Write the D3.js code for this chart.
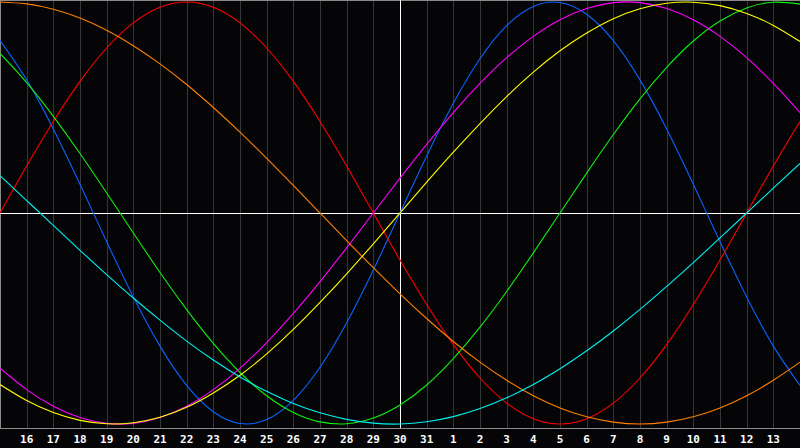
<!DOCTYPE html>
<html>
<head>
<meta charset="utf-8">
<script src="https://cdn.jsdelivr.net/npm/d3@7"></script>
<style>
  html, body { margin: 0; padding: 0; background: #050508; }
  svg { display: block; }
</style>
</head>
<body>
<svg id="chart"></svg>
<script>
// day numbers along the bottom (index 0 and 30 fall on the edges, unlabeled)
const days = [15, 16, 17, 18, 19, 20, 21, 22, 23, 24, 25, 26, 27, 28, 29, 30, 31,
              1, 2, 3, 4, 5, 6, 7, 8, 9, 10, 11, 12, 13, 14];
const tickLabels = ["16","17","18","19","20","21","22","23","24","25","26","27","28","29","30","31",
                    "1","2","3","4","5","6","7","8","9","10","11","12","13"];
const todayIndex = 15;

// cycle values per day (-1 .. 1)
const physical = [0.817, 0.631, 0.398, 0.136, -0.136, -0.398, -0.631, -0.817, -0.942, -0.998, -0.979,
  -0.888, -0.731, -0.520, -0.270, 0, 0.270, 0.520, 0.731, 0.888, 0.979, 0.998, 0.942, 0.817, 0.631,
  0.398, 0.136, -0.136, -0.398, -0.631, -0.817];
const emotional = [0, 0.223, 0.434, 0.624, 0.782, 0.901, 0.975, 1, 0.975, 0.901, 0.782, 0.624, 0.434,
  0.223, 0, -0.223, -0.434, -0.624, -0.782, -0.901, -0.975, -1, -0.975, -0.901, -0.782, -0.624,
  -0.434, -0.223, 0, 0.223, 0.434];
const intellectual = [0.756, 0.618, 0.458, 0.282, 0.095, -0.095, -0.282, -0.458, -0.618, -0.756,
  -0.866, -0.945, -0.990, -0.999, -0.972, -0.910, -0.815, -0.690, -0.541, -0.372, -0.189, 0, 0.189,
  0.372, 0.541, 0.690, 0.815, 0.910, 0.972, 0.999, 0.990];
const intuitive = [-0.736, -0.837, -0.916, -0.969, -0.997, -0.997, -0.969, -0.916, -0.837, -0.736,
  -0.614, -0.476, -0.325, -0.165, 0, 0.165, 0.325, 0.476, 0.614, 0.736, 0.837, 0.916, 0.969, 0.997,
  0.997, 0.969, 0.916, 0.837, 0.736, 0.614, 0.476];
const aesthetic = [-0.813, -0.889, -0.946, -0.983, -0.999, -0.994, -0.968, -0.921, -0.853, -0.769,
  -0.668, -0.552, -0.424, -0.288, -0.146, 0, 0.146, 0.288, 0.424, 0.552, 0.668, 0.769, 0.853, 0.921,
  0.968, 0.994, 0.999, 0.983, 0.946, 0.889, 0.813];
const awareness = [1, 0.991, 0.966, 0.924, 0.866, 0.793, 0.707, 0.609, 0.5, 0.383, 0.259, 0.131, 0,
  -0.131, -0.259, -0.383, -0.5, -0.609, -0.707, -0.793, -0.866, -0.924, -0.966, -0.991, -1, -0.991,
  -0.966, -0.924, -0.866, -0.793, -0.707];
const spiritual = [0.177, 0.059, -0.059, -0.177, -0.292, -0.403, -0.508, -0.607, -0.697, -0.777,
  -0.845, -0.903, -0.947, -0.978, -0.996, -1.0, -0.989, -0.965, -0.927, -0.876, -0.813, -0.738,
  -0.653, -0.559, -0.457, -0.348, -0.235, -0.118, 0, 0.118, 0.235];

const series = [
  { name: "Physical", values: physical, color: "#0a64ff" },
  { name: "Emotional", values: emotional, color: "#ff0000" },
  { name: "Intellectual", values: intellectual, color: "#10f010" },
  { name: "Intuitive", values: intuitive, color: "#ff00ff" },
  { name: "Awareness", values: awareness, color: "#ff8000" },
  { name: "Aesthetic", values: aesthetic, color: "#ffff00" },
  { name: "Spiritual", values: spiritual, color: "#00f0f0" }
];

const width = 800, height = 448, plotBottom = 428;

const svg = d3.select("#chart")
    .attr("width", width)
    .attr("height", height);

svg.append("rect")
    .attr("width", width)
    .attr("height", height)
    .attr("fill", "#050508");

const x = d3.scaleLinear().domain([0, days.length - 1]).range([0, width]);
const y = d3.scaleLinear().domain([-1, 1]).range([424, 2]);

// vertical day grid
svg.append("g")
  .selectAll("line")
  .data(d3.range(1, days.length - 1))
  .join("line")
    .attr("x1", d => Math.round(x(d)) + 0.5)
    .attr("x2", d => Math.round(x(d)) + 0.5)
    .attr("y1", 0)
    .attr("y2", plotBottom)
    .attr("stroke", "#363636")
    .attr("shape-rendering", "crispEdges");

// borders: top, left and the bottom axis line
svg.append("line").attr("x1", 0).attr("x2", width).attr("y1", 0.5).attr("y2", 0.5)
    .attr("stroke", "#8a8a8a").attr("shape-rendering", "crispEdges");
svg.append("line").attr("x1", 0.5).attr("x2", 0.5).attr("y1", 0).attr("y2", plotBottom)
    .attr("stroke", "#8a8a8a").attr("shape-rendering", "crispEdges");
svg.append("line").attr("x1", 0).attr("x2", width).attr("y1", plotBottom + 0.5).attr("y2", plotBottom + 0.5)
    .attr("stroke", "#8a8a8a").attr("shape-rendering", "crispEdges");

// zero line and today marker
svg.append("line")
    .attr("x1", 0).attr("x2", width)
    .attr("y1", Math.round(y(0)) + 0.5).attr("y2", Math.round(y(0)) + 0.5)
    .attr("stroke", "#ffffff").attr("shape-rendering", "crispEdges");
svg.append("line")
    .attr("x1", Math.round(x(todayIndex)) + 0.5).attr("x2", Math.round(x(todayIndex)) + 0.5)
    .attr("y1", 0).attr("y2", plotBottom)
    .attr("stroke", "#ffffff").attr("shape-rendering", "crispEdges");

// curves
const line = d3.line()
    .x((d, i) => x(i))
    .y(d => y(d))
    .curve(d3.curveNatural);

svg.append("g")
  .selectAll("path")
  .data(series)
  .join("path")
    .attr("d", d => line(d.values))
    .attr("fill", "none")
    .attr("stroke", d => d.color)
    .attr("stroke-width", 1.1);

// day labels
svg.append("g")
  .selectAll("text")
  .data(tickLabels)
  .join("text")
    .attr("x", (d, i) => x(i + 1))
    .attr("y", 443)
    .attr("text-anchor", "middle")
    .attr("fill", "#ffffff")
    .attr("font-family", "DejaVu Sans Mono, monospace")
    .attr("font-weight", "bold")
    .attr("font-size", "11px")
    .text(d => d);
</script>
</body>
</html>
